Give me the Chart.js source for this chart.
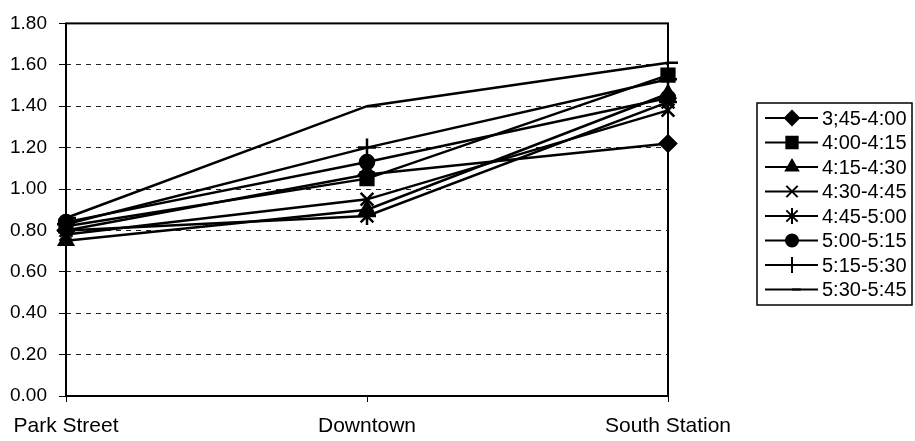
<!DOCTYPE html>
<html lang="en">
<head>
<meta charset="UTF-8">
<title>Station times</title>
<script src="https://cdn.jsdelivr.net/npm/chart.js"></script>
<style>
  html, body { margin: 0; padding: 0; background: #fff; }
</style>
</head>
<body>
<canvas id="grafica" width="915" height="441"></canvas>
<script>
// data
const categories = ['Park Street', 'Downtown', 'South Station'];
const seriesNames = ['3;45-4:00', '4:00-4:15', '4:15-4:30', '4:30-4:45',
                     '4:45-5:00', '5:00-5:15', '5:15-5:30', '5:30-5:45'];
const s0345 = [0.80, 1.07, 1.22];
const s0400 = [0.82, 1.05, 1.55];
const s0415 = [0.75, 0.90, 1.46];
const s0430 = [0.78, 0.95, 1.38];
const s0445 = [0.80, 0.87, 1.42];
const s0500 = [0.84, 1.13, 1.44];
const s0515 = [0.83, 1.20, 1.53];
const s0530 = [0.86, 1.40, 1.61];
const yMin = 0, yMax = 1.8, yStep = 0.2;

const allSeries = [s0345, s0400, s0415, s0430, s0445, s0500, s0515, s0530];
// marker look per series
const markers = ['rectRot', 'rect', 'triangle', 'crossRot', 'star', 'circle', 'cross', 'dash'];
const radii   = [8, 9, 8, 9, 9, 7, 9, 10];

const datasets = allSeries.map((vals, i) => ({
    label: seriesNames[i],
    data: vals,
    borderColor: '#000',
    backgroundColor: '#000',
    borderWidth: 2.5,
    pointStyle: markers[i],
    pointRadius: radii[i],
    pointBorderWidth: 2.5,
    pointBackgroundColor: '#000',
    pointBorderColor: '#000',
    tension: 0,
    clip: false
}));

// frame around the plot area
const marco = {
    id: 'marco',
    beforeDatasetsDraw(chart) {
        const { ctx, chartArea: a } = chart;
        ctx.save();
        ctx.strokeStyle = '#000';
        ctx.lineWidth = 2;
        ctx.strokeRect(a.left, a.top, a.right - a.left, a.bottom - a.top);
        ctx.restore();
    }
};

// legend box with line + marker, like the spreadsheet one
const leyenda = {
    id: 'leyenda',
    afterDraw(chart) {
        const ctx = chart.ctx;
        ctx.save();
        ctx.strokeStyle = '#000';
        ctx.lineWidth = 1.5;
        ctx.strokeRect(757, 103, 155, 202);
        chart.data.datasets.forEach((ds, i) => {
            const y = 118 + i * 24.5;
            ctx.beginPath();
            ctx.lineWidth = 2;
            ctx.moveTo(765, y);
            ctx.lineTo(818, y);
            ctx.stroke();
            ctx.fillStyle = '#000';
            Chart.helpers.drawPoint(ctx, {
                pointStyle: ds.pointStyle, radius: ds.pointRadius - 1, rotation: 0, borderWidth: 2
            }, 792, y);
            ctx.fillStyle = '#000';
            ctx.font = '20px "Liberation Sans", Arial, sans-serif';
            ctx.textBaseline = 'middle';
            ctx.textAlign = 'left';
            ctx.fillText(ds.label, 822, y + 1);
        });
        ctx.restore();
    }
};

const ctx = document.getElementById('grafica').getContext('2d');
new Chart(ctx, {
    type: 'line',
    data: { labels: categories, datasets: datasets },
    options: {
        responsive: false,
        animation: false,
        layout: { padding: { top: 16, right: 247, bottom: 0, left: 0 } },
        plugins: { legend: { display: false }, tooltip: { enabled: false } },
        scales: {
            x: {
                offset: false,
                grid: { display: true, drawOnChartArea: false, color: '#000', tickLength: 6 },
                border: { display: false },
                ticks: {
                    color: '#000', padding: 12, maxRotation: 0, autoSkip: false,
                    font: { family: '"Liberation Sans", Arial, sans-serif', size: 21 }
                },
                afterFit(scale) { scale.height = 45; }
            },
            y: {
                min: yMin, max: yMax,
                grid: { color: '#222', lineWidth: 1, tickLength: 7, tickColor: '#000', tickBorderDash: [] },
                border: { display: false, dash: [5, 5] },
                ticks: {
                    stepSize: yStep, color: '#000', padding: 12,
                    font: { family: '"Liberation Sans", Arial, sans-serif', size: 19 },
                    callback: v => Number(v).toFixed(2)
                },
                afterFit(scale) { scale.width = 66; }
            }
        }
    },
    plugins: [marco, leyenda]
});
</script>
</body>
</html>
